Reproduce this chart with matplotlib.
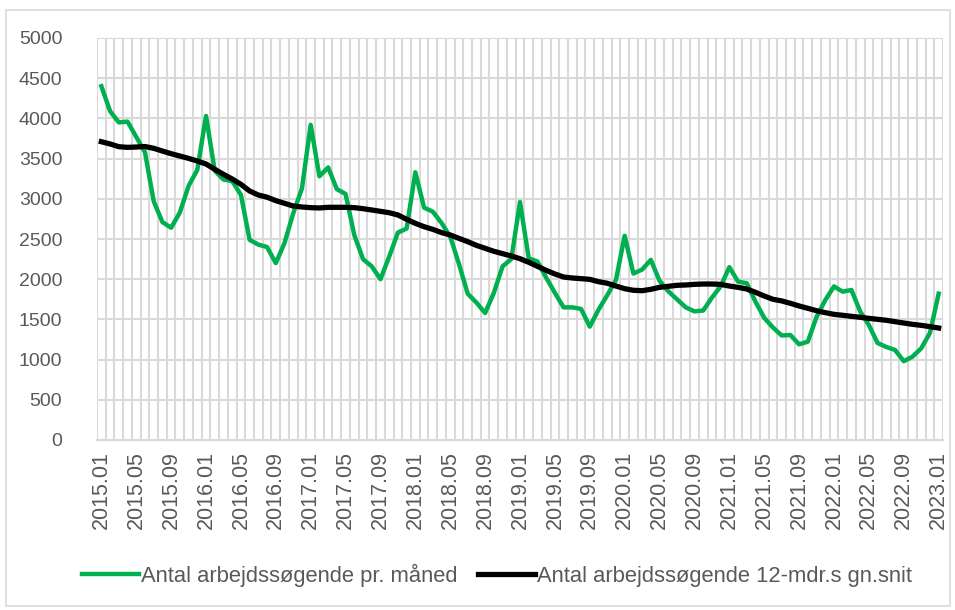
import matplotlib.pyplot as plt
from matplotlib.patches import Rectangle

# months 2015.01 .. 2023.01
months = [f"{y}.{m:02d}" for y in range(2015, 2024) for m in range(1, 13)][:97]

# antal arbejdssøgende pr. måned
monthly = [
    4400, 4090, 3950, 3960, 3770, 3580, 2970, 2710, 2640, 2830, 3160, 3360,
    4030, 3350, 3240, 3220, 3050, 2490, 2430, 2400, 2200, 2450, 2820, 3130,
    3920, 3280, 3390, 3120, 3060, 2550, 2250, 2160, 2000, 2280, 2580, 2630,
    3330, 2890, 2840, 2700, 2530, 2190, 1820, 1710, 1580, 1830, 2160, 2250,
    2960, 2260, 2220, 2020, 1830, 1650, 1650, 1630, 1410, 1620, 1800, 1990,
    2540, 2070, 2120, 2240, 1980, 1850, 1750, 1650, 1600, 1610, 1770, 1910,
    2150, 1970, 1950, 1720, 1520, 1400, 1300, 1306, 1190, 1223, 1530, 1740,
    1910, 1845, 1866, 1600, 1430, 1206, 1157, 1120, 980, 1036, 1140, 1330,
    1820,
]

# 12-mdr. glidende gennemsnit
rolling = [
    3710, 3682, 3648, 3640, 3644, 3650, 3628, 3594, 3561, 3532, 3503, 3470,
    3433, 3367, 3304, 3246, 3180, 3097, 3047, 3020, 2977, 2944, 2910, 2898,
    2890, 2886, 2894, 2894, 2894, 2890, 2877, 2861, 2844, 2827, 2799, 2745,
    2695, 2653, 2620, 2580, 2550, 2508, 2467, 2421, 2384, 2347, 2318, 2289,
    2255, 2210, 2160, 2110, 2065, 2027, 2015, 2007, 1998, 1969, 1950, 1915,
    1882, 1862, 1857, 1874, 1899, 1911, 1924, 1928, 1936, 1940, 1940, 1936,
    1915, 1899, 1878, 1837, 1791, 1750, 1730, 1700, 1667, 1638, 1608, 1584,
    1563, 1551, 1538, 1526, 1513, 1501, 1489, 1472, 1455, 1439, 1426, 1410,
    1393,
]

tick_labels = [
    "2015.01", "2015.05", "2015.09", "2016.01", "2016.05", "2016.09",
    "2017.01", "2017.05", "2017.09", "2018.01", "2018.05", "2018.09",
    "2019.01", "2019.05", "2019.09", "2020.01", "2020.05", "2020.09",
    "2021.01", "2021.05", "2021.09", "2022.01", "2022.05", "2022.09",
    "2023.01",
]

plt.rcParams['font.family'] = ['Liberation Sans', 'DejaVu Sans']
text_color = "#595959"
grid_color = "#d9d9d9"

fig = plt.figure(figsize=(9.55, 6.1), dpi=100)
ax = fig.add_axes([97 / 955, 1 - 440 / 610, (943 - 97) / 955, (440 - 38) / 610])

# outer chart border
fig.patches.append(Rectangle((6 / 955, 4 / 610), 944 / 955, 596 / 610,
                             transform=fig.transFigure, fill=False,
                             edgecolor=grid_color, linewidth=1.2))

x = list(range(len(months)))
ax.plot(x, monthly, color="#00b050", linewidth=3.2,
        label="Antal arbejdssøgende pr. måned", zorder=3)
ax.plot(x, rolling, color="black", linewidth=3.8,
        label="Antal arbejdssøgende 12-mdr.s gn.snit", zorder=4)

ax.set_xlim(-0.5, len(months) - 0.5)
ax.set_ylim(0, 5000)
ax.set_yticks(range(0, 5001, 500))

tick_pos = [months.index(t) for t in tick_labels]
ax.set_xticks(tick_pos)
ax.set_xticklabels(tick_labels, rotation=90, fontsize=15.5)
ax.set_xticks([i - 0.5 for i in range(len(months) + 1)], minor=True)

ax.grid(True, which="major", axis="y", color=grid_color, linewidth=1.5)
ax.grid(True, which="minor", axis="x", color=grid_color, linewidth=1.5)
ax.set_axisbelow(True)

for s in ["top", "right", "left"]:
    ax.spines[s].set_visible(False)
ax.spines["bottom"].set_color(grid_color)
ax.spines["bottom"].set_linewidth(1.5)

ax.tick_params(axis="both", which="both", length=0, colors=text_color)
ax.tick_params(axis="y", labelsize=14, pad=25)
ax.tick_params(axis="x", pad=8)

leg = fig.legend(loc="center", bbox_to_anchor=(497 / 955, 1 - 575 / 610), ncol=2,
                 frameon=False, fontsize=15.8, handlelength=2.6, handletextpad=0.12,
                 columnspacing=0.9)
for t in leg.get_texts():
    t.set_color(text_color)

plt.savefig("out.png", dpi=100)
